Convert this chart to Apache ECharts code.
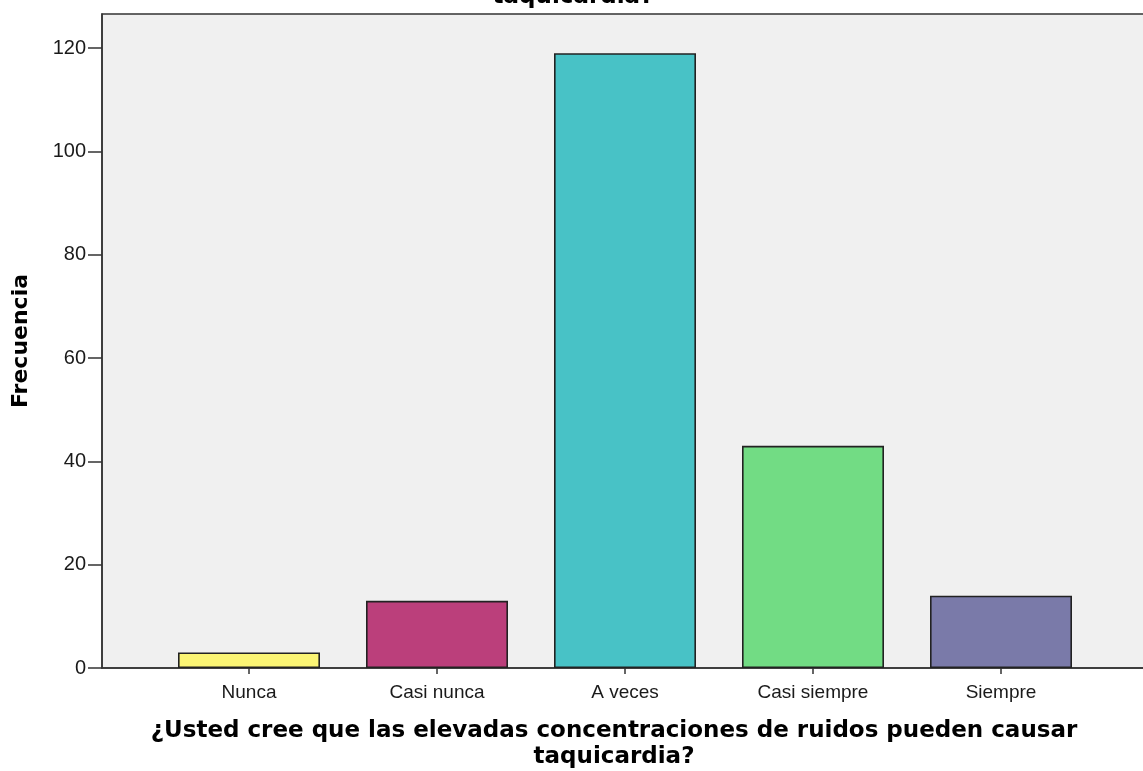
<!DOCTYPE html>
<html>
<head>
<meta charset="utf-8">
<script src="https://cdn.jsdelivr.net/npm/echarts@6/dist/echarts.min.js"></script>
<style>
html,body{margin:0;padding:0;background:#fff;}
#chart{width:1143px;height:771px;}
</style>
</head>
<body>
<div id="chart"></div>
<script>
const categories = ['Nunca', 'Casi nunca', 'A veces', 'Casi siempre', 'Siempre'];
const frecuencia = [3, 13, 119, 43, 14];
const barColors = ['#fbf574', '#bb3f7b', '#48c2c6', '#72dc84', '#7a7aa9'];
const yTicks = [0, 20, 40, 60, 80, 100, 120];
const titleText = '¿Usted cree que las elevadas concentraciones de ruidos pueden causar\ntaquicardia?';
const yMax = 126.6;

const chart = echarts.init(document.getElementById('chart'));
const font = 'Liberation Sans, Arial, sans-serif';
const boldFont = 'DejaVu Sans, Verdana, sans-serif';
chart.setOption({
  animation: false,
  backgroundColor: '#ffffff',
  title: {
    text: titleText,
    left: 568, textAlign: 'center', top: -47,
    textStyle: {fontFamily: boldFont, fontSize: 23, fontWeight: 'bold', color: '#000', lineHeight: 26}
  },
  grid: [
    {left: 102, top: 14, width: 1050, bottom: 103, show: true, backgroundColor: '#f0f0f0', borderColor: '#333', borderWidth: 1.5, outerBoundsMode: 'none', containLabel: false},
    {left: 155, top: 14, right: 48, bottom: 103, outerBoundsMode: 'none', containLabel: false}
  ],
  xAxis: [
    {type: 'value', gridIndex: 0, min: 0, max: 1, axisLine: {show: true, onZero: false, lineStyle: {color: '#333', width: 1.5}}, axisTick: {show: false}, axisLabel: {show: false}, splitLine: {show: false},
     name: titleText, nameLocation: 'middle', nameGap: 50,
     nameTextStyle: {fontFamily: boldFont, fontSize: 23, fontWeight: 'bold', color: '#000', lineHeight: 26, align: 'center', verticalAlign: 'top', padding: [0, 26, 0, 0]}},
    {type: 'category', gridIndex: 1, data: categories, axisLine: {show: false}, axisTick: {show: true, alignWithLabel: true, length: 6, lineStyle: {color: '#333', width: 1.5}},
     axisLabel: {fontFamily: font, fontSize: 19, color: '#1a1a1a', margin: 15}}
  ],
  yAxis: [
    {type: 'value', gridIndex: 0, min: 0, max: yMax, interval: 20,
     axisLine: {show: true, lineStyle: {color: '#333', width: 1.5}},
     axisTick: {show: true, length: 14, customValues: yTicks, lineStyle: {color: '#333', width: 1.5}},
     axisLabel: {customValues: yTicks, fontFamily: font, fontSize: 20, color: '#1a1a1a', margin: 16},
     splitLine: {show: false},
     name: 'Frecuencia', nameLocation: 'middle', nameGap: 70,
     nameTextStyle: {fontFamily: boldFont, fontSize: 22, fontWeight: 'bold', color: '#000'}},
    {type: 'value', gridIndex: 1, min: 0, max: yMax, show: false, splitLine: {show: false}}
  ],
  series: [{
    type: 'bar', xAxisIndex: 1, yAxisIndex: 1,
    barWidth: 142,
    data: frecuencia.map((v, i) => ({value: v, itemStyle: {color: barColors[i]}})),
    itemStyle: {borderColor: '#222', borderWidth: 1.6}
  }]
});
</script>
</body>
</html>
